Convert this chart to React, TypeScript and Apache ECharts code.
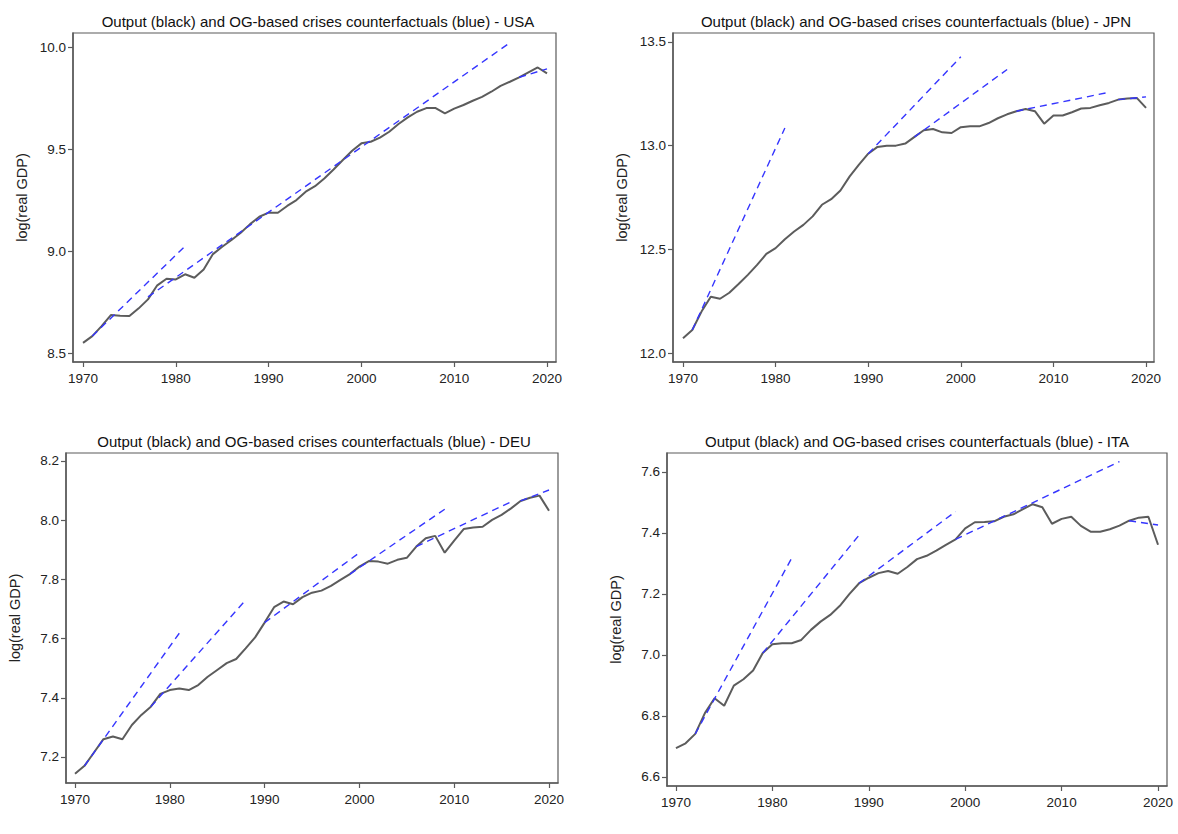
import React, { useEffect, useRef } from "react";
import * as echarts from "echarts";

const years: number[] = [];
for (let y = 1970; y <= 2020; y++) years.push(y);

const xTicks = [1970, 1980, 1990, 2000, 2010, 2020];

const usaValues = [8.550, 8.583, 8.632, 8.686, 8.683, 8.681, 8.719, 8.763, 8.832, 8.864, 8.861, 8.886, 8.869, 8.910, 8.985, 9.021, 9.054, 9.090, 9.132, 9.168, 9.188, 9.188, 9.221, 9.250, 9.291, 9.318, 9.356, 9.400, 9.446, 9.492, 9.528, 9.536, 9.556, 9.585, 9.623, 9.655, 9.683, 9.701, 9.701, 9.675, 9.698, 9.716, 9.737, 9.756, 9.781, 9.810, 9.830, 9.851, 9.876, 9.900, 9.871];
const jpnValues = [12.072, 12.111, 12.200, 12.272, 12.262, 12.291, 12.333, 12.377, 12.425, 12.478, 12.506, 12.549, 12.586, 12.618, 12.659, 12.715, 12.742, 12.784, 12.852, 12.908, 12.961, 12.994, 13.000, 13.000, 13.010, 13.042, 13.074, 13.080, 13.064, 13.061, 13.089, 13.093, 13.093, 13.109, 13.132, 13.151, 13.166, 13.177, 13.166, 13.106, 13.145, 13.145, 13.161, 13.179, 13.182, 13.195, 13.206, 13.222, 13.227, 13.230, 13.182];
const deuValues = [7.143, 7.170, 7.215, 7.260, 7.269, 7.260, 7.308, 7.342, 7.370, 7.413, 7.426, 7.431, 7.426, 7.443, 7.471, 7.494, 7.517, 7.531, 7.567, 7.604, 7.654, 7.706, 7.725, 7.716, 7.740, 7.755, 7.762, 7.778, 7.798, 7.818, 7.843, 7.862, 7.860, 7.853, 7.866, 7.873, 7.911, 7.939, 7.947, 7.890, 7.931, 7.970, 7.975, 7.978, 8.001, 8.018, 8.040, 8.065, 8.076, 8.083, 8.032];
const itaValues = [6.694, 6.710, 6.741, 6.809, 6.858, 6.833, 6.899, 6.920, 6.949, 7.006, 7.035, 7.038, 7.038, 7.049, 7.082, 7.109, 7.131, 7.161, 7.200, 7.235, 7.253, 7.268, 7.275, 7.266, 7.288, 7.314, 7.325, 7.342, 7.361, 7.379, 7.415, 7.435, 7.436, 7.438, 7.453, 7.461, 7.478, 7.494, 7.484, 7.430, 7.446, 7.453, 7.423, 7.404, 7.404, 7.412, 7.424, 7.440, 7.450, 7.453, 7.361];

// Counterfactual segments: [[startYear, startValue], [endYear, endValue]]
const usaCf = [
  [[1971, 8.583], [1981, 9.024]],
  [[1977, 8.775], [2016, 10.021]],
  [[2017, 9.852], [2020, 9.893]],
];
const jpnCf = [
  [[1971, 12.111], [1981, 13.085]],
  [[1990, 12.961], [2000, 13.428]],
  [[1995, 13.042], [2005, 13.367]],
  [[2006, 13.166], [2016, 13.257]],
  [[2017, 13.222], [2020, 13.235]],
];
const deuCf = [
  [[1971, 7.170], [1981, 7.618]],
  [[1978, 7.370], [1988, 7.730]],
  [[1990, 7.654], [2000, 7.890]],
  [[1999, 7.818], [2009, 8.037]],
  [[2006, 7.911], [2016, 8.062]],
  [[2017, 8.065], [2020, 8.102]],
];
const itaCf = [
  [[1972, 6.741], [1982, 7.317]],
  [[1979, 7.006], [1989, 7.393]],
  [[1989, 7.235], [1999, 7.470]],
  [[1999, 7.379], [2016, 7.634]],
  [[2017, 7.440], [2020, 7.426]],
];

const usaTicks = [8.5, 9.0, 9.5, 10.0];
const jpnTicks = [12.0, 12.5, 13.0, 13.5];
const deuTicks = [7.2, 7.4, 7.6, 7.8, 8.0, 8.2];
const itaTicks = [6.6, 6.8, 7.0, 7.2, 7.4, 7.6];

const countries = ["USA", "JPN", "DEU", "ITA"];

const panels = [
  { name: "USA", values: usaValues, cf: usaCf, ticks: usaTicks, grid: { left: 73, top: 33, width: 483, height: 329 }, x: [1968.92, 2020.97], y: [8.456, 10.069], titleX: 318 },
  { name: "JPN", values: jpnValues, cf: jpnCf, ticks: jpnTicks, grid: { left: 673, top: 33, width: 481, height: 329 }, x: [1968.92, 2020.86], y: [11.957, 13.543], titleX: 916 },
  { name: "DEU", values: deuValues, cf: deuCf, ticks: deuTicks, grid: { left: 66, top: 453, width: 492, height: 330 }, x: [1969.05, 2020.95], y: [7.112, 8.227], titleX: 314 },
  { name: "ITA", values: itaValues, cf: itaCf, ticks: itaTicks, grid: { left: 667, top: 453, width: 500, height: 333 }, x: [1969.07, 2020.93], y: [6.57, 7.662], titleX: 917 },
];

const FONT = "'Liberation Sans', Arial, sans-serif";
const AXIS_COLOR = "#5a5a5a";

export default function App() {
  const ref = useRef<HTMLDivElement>(null);
  useEffect(() => {
    if (!ref.current) return;
    const chart = echarts.init(ref.current, undefined, { renderer: "svg" });
    const grids: any[] = [];
    const xAxes: any[] = [];
    const yAxes: any[] = [];
    const titles: any[] = [];
    const series: any[] = [];
    panels.forEach((p, i) => {
      grids.push({ ...p.grid, show: true, borderColor: AXIS_COLOR, borderWidth: 1.2, backgroundColor: "#fff" });
      titles.push({
        text: "Output (black) and OG-based crises counterfactuals (blue) - " + countries[i],
        left: p.titleX,
        top: p.grid.top - 19,
        textAlign: "center",
        padding: 0,
        textStyle: { fontFamily: FONT, fontSize: 15, fontWeight: "normal", color: "#111" },
      });
      xAxes.push({
        type: "value",
        gridIndex: i,
        min: p.x[0],
        max: p.x[1],
        splitLine: { show: false },
        axisLine: { show: true, lineStyle: { color: AXIS_COLOR, width: 1.5 } },
        axisTick: { show: true, length: 5, lineStyle: { color: AXIS_COLOR, width: 1.2 }, customValues: xTicks },
        axisLabel: { customValues: xTicks, formatter: (v: number) => String(Math.round(v)), fontFamily: FONT, fontSize: 13.5, color: "#222", margin: 9 },
      });
      yAxes.push({
        type: "value",
        gridIndex: i,
        min: p.y[0],
        max: p.y[1],
        name: "log(real GDP)",
        nameLocation: "middle",
        nameGap: 44,
        nameRotate: 90,
        nameTextStyle: { fontFamily: FONT, fontSize: 14.5, color: "#222" },
        splitLine: { show: false },
        axisLine: { show: true, lineStyle: { color: AXIS_COLOR, width: 1.5 } },
        axisTick: { show: true, length: 5, lineStyle: { color: AXIS_COLOR, width: 1.2 }, customValues: p.ticks },
        axisLabel: { customValues: p.ticks, formatter: (v: number) => v.toFixed(1), fontFamily: FONT, fontSize: 13.5, color: "#222", margin: 7 },
      });
      series.push({
        type: "line",
        xAxisIndex: i,
        yAxisIndex: i,
        data: years.map((yr, k) => [yr, p.values[k]]),
        showSymbol: false,
        symbol: "none",
        lineStyle: { color: "#5c5c5c", width: 2 },
        z: 2,
      });
      p.cf.forEach((seg) => {
        series.push({
          type: "line",
          xAxisIndex: i,
          yAxisIndex: i,
          data: seg,
          showSymbol: false,
          symbol: "none",
          lineStyle: { color: "#3535ff", width: 1.4, type: [7, 5] },
          z: 3,
        });
      });
    });
    chart.setOption({
      animation: false,
      backgroundColor: "#fff",
      title: titles,
      grid: grids,
      xAxis: xAxes,
      yAxis: yAxes,
      series,
    });
    return () => chart.dispose();
  }, []);
  return (
    <div
      ref={ref}
      style={{ position: "fixed", left: 0, top: 0, width: 1178, height: 834, background: "#fff" }}
    />
  );
}
